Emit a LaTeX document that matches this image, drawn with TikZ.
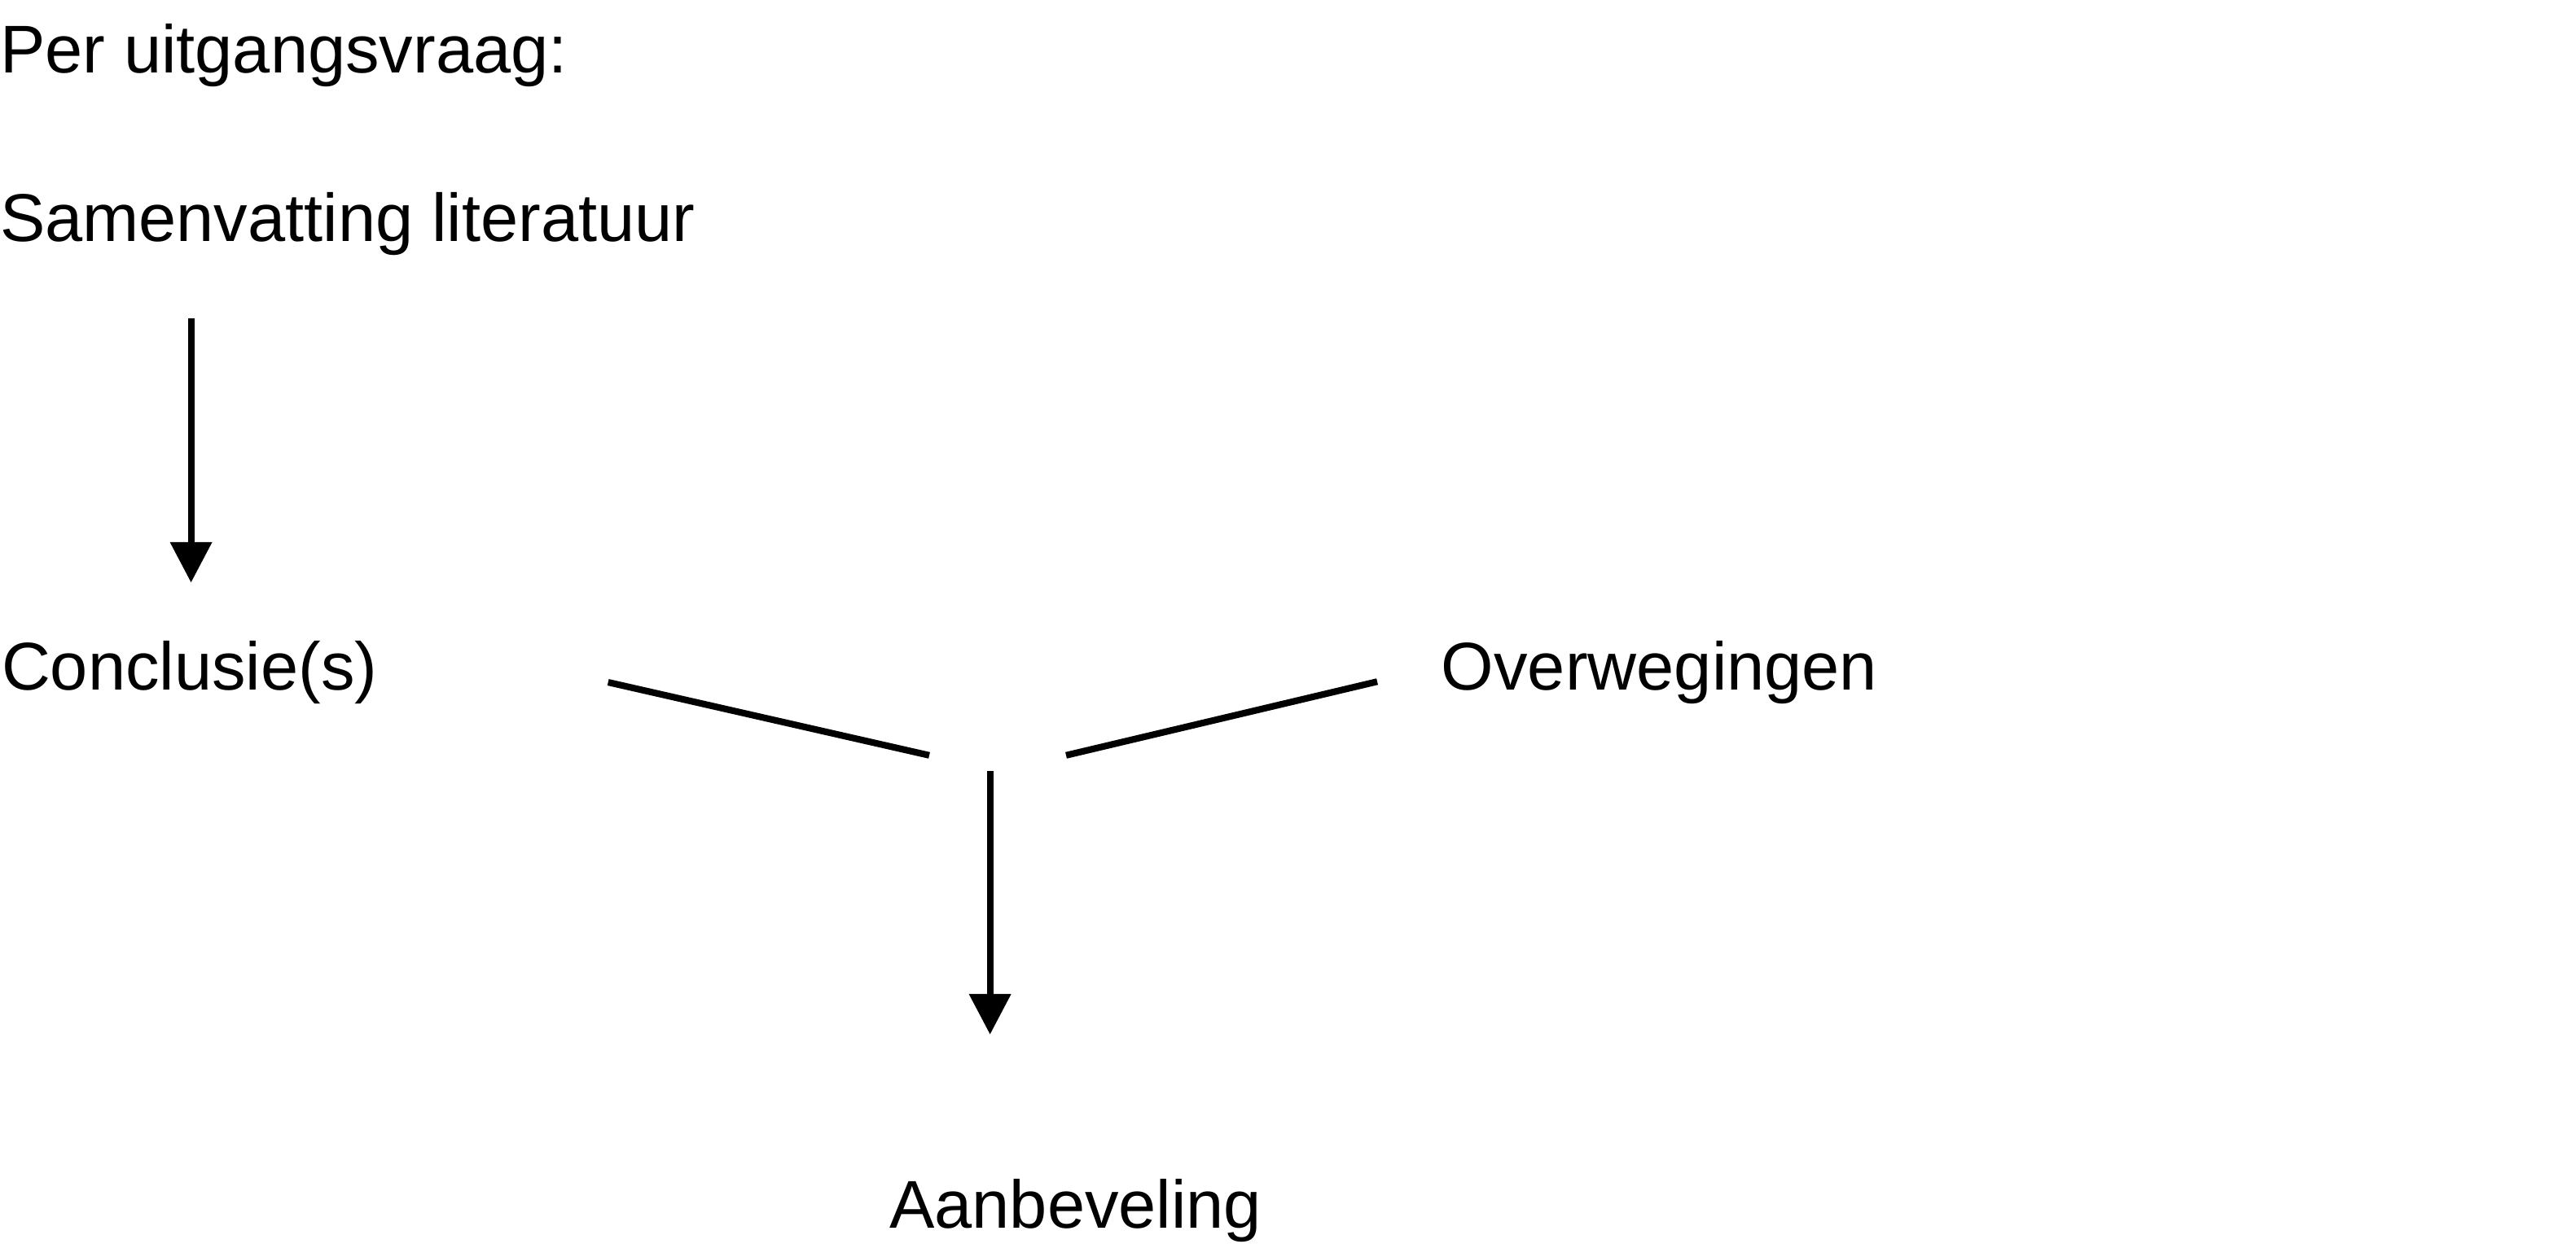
\documentclass[tikz,border=0pt]{standalone}
\usepackage{fontspec}
\setmainfont{Liberation Sans}
\usetikzlibrary{arrows.meta}
\begin{document}
\begin{tikzpicture}[x=0.2916pt,y=-0.2916pt,
  lbl/.style={anchor=base west,inner sep=0pt,outer sep=0pt,font=\fontsize{12}{14}\selectfont},
  flowline/.style={line width=1.17pt,black},
  flowarrow/.style={flowline,-{Triangle[width=7.2pt,length=7.2pt]}}]
\useasboundingbox (0,0) rectangle (1568.2,765.5);
\node[lbl] (vraag) at (0,44.3) {Per uitgangsvraag:};
\node[lbl] (samen) at (0,147.1) {Samenvatting literatuur};
\node[lbl] (concl) at (1,420.4) {Conclusie(s)};
\node[lbl] (overw) at (877.5,420.4) {Overwegingen};
\node[lbl] (aanb) at (541.5,747.7) {Aanbeveling};
\coordinate (a1s) at (116.3,193.9);
\coordinate (a1e) at (116.3,354.8);
\coordinate (l1s) at (370.2,415.5);
\coordinate (l1e) at (565.7,460);
\coordinate (l2s) at (649,460);
\coordinate (l2e) at (838.4,415.1);
\coordinate (a2s) at (602.7,469.4);
\coordinate (a2e) at (602.7,630);
\draw[flowarrow] (a1s) -- (a1e);
\draw[flowline] (l1s) -- (l1e);
\draw[flowline] (l2s) -- (l2e);
\draw[flowarrow] (a2s) -- (a2e);
\end{tikzpicture}
\end{document}
